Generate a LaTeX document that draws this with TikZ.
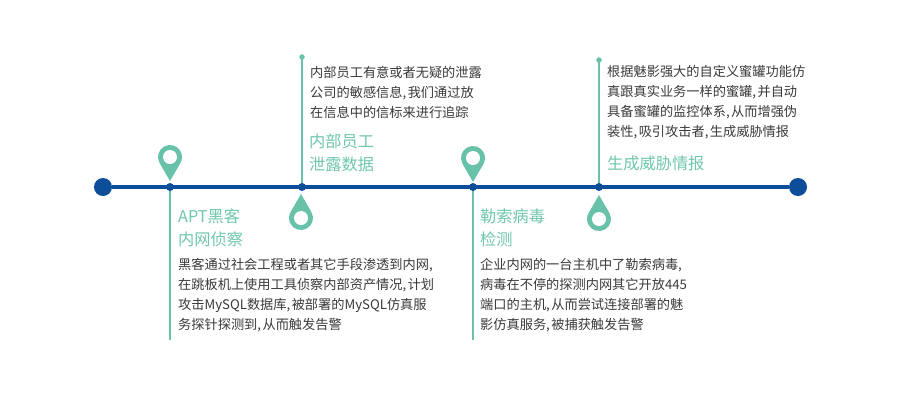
\documentclass[tikz,border=0pt]{standalone}
\usepackage{fontspec}
\setmainfont{Noto Sans CJK SC}
\definecolor{teal1}{HTML}{67C2A9}
\definecolor{teal2}{HTML}{6FC7AE}
\definecolor{navy1}{HTML}{0D4E9B}
\definecolor{body1}{HTML}{3A3A3A}
\newcommand{\cm}{,\kern1.5pt}
\tikzset{
  x=1pt,y=-1pt,
  enddot/.style={circle,fill=navy1,minimum size=18pt,inner sep=0pt},
  middot/.style={circle,fill=navy1,minimum size=8pt,inner sep=0pt},
  topdot/.style={circle,fill=teal1,minimum size=5.5pt,inner sep=0pt},
  mainline/.style={draw=navy1,line width=4.4pt},
  stem/.style={draw=teal1,line width=1.5pt},
  bodytext/.style={anchor=west,inner sep=0pt,align=left,text=body1,font=\fontsize{13.2}{20}\selectfont},
  titletext/.style={anchor=west,inner sep=0pt,align=left,text=teal2,font=\fontsize{16.2}{23}\selectfont},
  pin/.pic={
    \fill[teal1] (0pt,-24pt) -- (210:12pt) arc[start angle=210,end angle=-30,radius=12pt] -- cycle;
    \fill[white] (0pt,0pt) circle[radius=7pt];
  }
}
\begin{document}
\begin{tikzpicture}
\useasboundingbox (0,0) rectangle (900,416);
\fill[white] (0,0) rectangle (900,416);
% free ends of the stems
\coordinate (b1) at (170,340);
\coordinate (b3) at (473,340);
\node[topdot] (t2) at (302,57) {};
\node[topdot] (t4) at (599,60) {};
% junction positions
\coordinate (c1) at (170,187);
\coordinate (c2) at (302,187);
\coordinate (c3) at (473,187);
\coordinate (c4) at (599,187);
\draw[stem] (c1) -- (b1);
\draw[stem] (c2) -- (t2.center);
\draw[stem] (c3) -- (b3);
\draw[stem] (c4) -- (t4.center);
% timeline
\node[enddot] (s) at (103,187) {};
\node[enddot] (e) at (798,187) {};
\draw[mainline] (s) -- (e);
\node[middot] (d1) at (c1) {};
\node[middot] (d2) at (c2) {};
\node[middot] (d3) at (c3) {};
\node[middot] (d4) at (c4) {};
% pins
\pic at (170,157) {pin};
\pic at (473,158) {pin};
\pic[rotate=180] at (301,218) {pin};
\pic[rotate=180] at (599,219) {pin};
% titles
\node[titletext] (h1) at (178,227.5) {APT黑客\\内网侦察};
\node[titletext] (h2) at (309,152.5) {内部员工\\泄露数据};
\node[titletext] (h3) at (480,228) {勒索病毒\\检测};
\node[titletext] (h4) at (607,163) {生成威胁情报};
% bodies
\node[bodytext] (p1) at (178,295) {黑客通过社会工程或者其它手段渗透到内网\cm\\在跳板机上使用工具侦察内部资产情况\cm 计划\\攻击MySQL数据库\cm 被部署的MySQL仿真服\\务探针探测到\cm 从而触发告警};
\node[bodytext] (p2) at (310,92.5) {内部员工有意或者无疑的泄露\\公司的敏感信息\cm 我们通过放\\在信息中的信标来进行追踪};
\node[bodytext] (p3) at (480,295.5) {企业内网的一台主机中了勒索病毒\cm\\病毒在不停的探测内网其它开放445\\端口的主机\cm 从而尝试连接部署的魅\\影仿真服务\cm 被捕获触发告警};
\node[bodytext] (p4) at (607,102.5) {根据魅影强大的自定义蜜罐功能仿\\真跟真实业务一样的蜜罐\cm 并自动\\具备蜜罐的监控体系\cm 从而增强伪\\装性\cm 吸引攻击者\cm 生成威胁情报};
\end{tikzpicture}
\end{document}
